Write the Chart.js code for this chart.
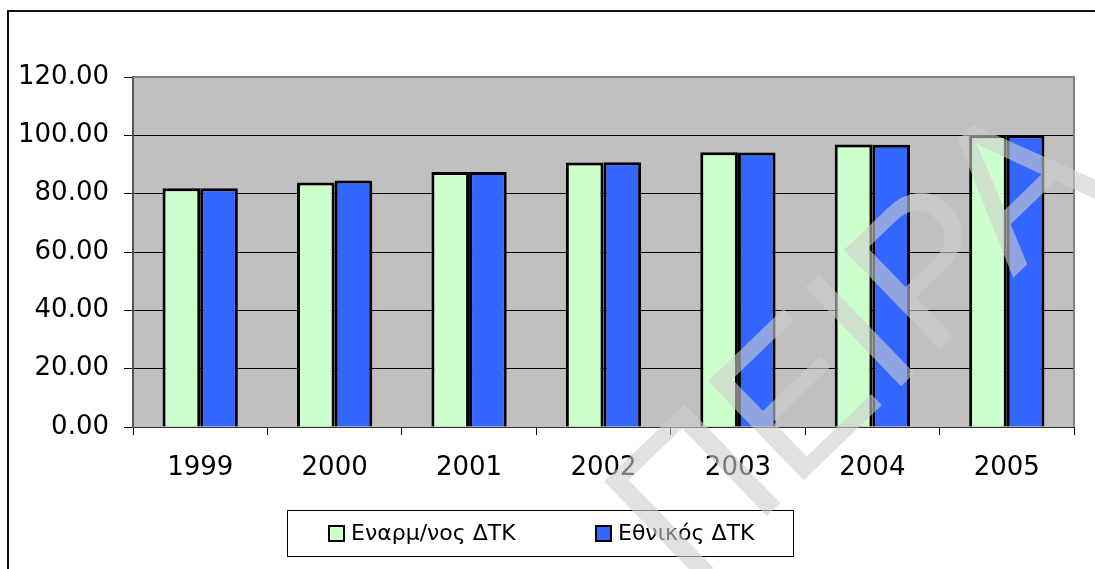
<!DOCTYPE html>
<html>
<head>
<meta charset="utf-8">
<script src="https://cdn.jsdelivr.net/npm/chart.js@4.4.0/dist/chart.umd.min.js"></script>
<style>
  html, body { margin: 0; padding: 0; background: #fff; }
  #wrap { position: relative; width: 1095px; height: 569px; }
</style>
</head>
<body>
<div id="wrap"><canvas id="cpiChart"></canvas></div>
<script>
// yearly index values, 2005 = 100
const years = ['1999', '2000', '2001', '2002', '2003', '2004', '2005'];
const harmonisedCpi = [81.9, 83.8, 87.4, 90.7, 94.2, 96.9, 100.0];
const nationalCpi = [81.9, 84.5, 87.4, 90.8, 94.1, 96.8, 100.0];
const seriesNames = ['Εναρμ/νος ΔΤΚ', 'Εθνικός ΔΤΚ'];
const yMin = 0, yMax = 120, yStep = 20;

const FONT = "'DejaVu Sans', sans-serif";

// grey plot background, outer frame
const frame = {
    id: 'frame',
    beforeDraw(chart) {
        const { ctx, chartArea: a } = chart;
        ctx.save();
        ctx.fillStyle = '#c0c0c0';
        ctx.fillRect(a.left, a.top, a.right - a.left, a.bottom - a.top);
        ctx.strokeStyle = '#111';
        ctx.lineWidth = 2;
        ctx.beginPath();
        ctx.moveTo(8, 600);
        ctx.lineTo(8, 11);
        ctx.lineTo(1100, 11);
        ctx.stroke();
        ctx.restore();
    },
    afterDatasetsDraw(chart) {
        const { ctx, chartArea: a } = chart;
        ctx.save();
        ctx.strokeStyle = '#808080';
        ctx.lineWidth = 2;
        ctx.beginPath();
        ctx.moveTo(a.left, a.top);
        ctx.lineTo(a.right, a.top);
        ctx.lineTo(a.right, a.bottom);
        ctx.stroke();
        ctx.restore();
    }
};

// boxed legend under the axis
const boxLegend = {
    id: 'boxLegend',
    afterDraw(chart) {
        const { ctx } = chart;
        const ds = chart.data.datasets;
        const itemX = [329, 596];
        ctx.save();
        ctx.fillStyle = '#fff';
        ctx.fillRect(287, 510, 506, 46);
        ctx.strokeStyle = '#000';
        ctx.lineWidth = 1;
        ctx.strokeRect(287.5, 510.5, 506, 46);
        ctx.font = '22px ' + FONT;
        ctx.textBaseline = 'middle';
        ds.forEach((d, i) => {
            const x = itemX[i];
            ctx.fillStyle = d.backgroundColor;
            ctx.fillRect(x, 526, 15, 15);
            ctx.lineWidth = 2;
            ctx.strokeStyle = '#000';
            ctx.strokeRect(x, 526, 15, 15);
            ctx.fillStyle = '#000';
            ctx.fillText(d.label, x + 22, 534);
        });
        ctx.restore();
    }
};

// faint diagonal stamp across the right side
const stamp = {
    id: 'stamp',
    afterDraw(chart) {
        const { ctx } = chart;
        ctx.save();
        ctx.translate(688, 592);
        ctx.rotate(-44 * Math.PI / 180);
        ctx.font = "200px 'Liberation Sans', sans-serif";
        ctx.textAlign = 'left';
        ctx.textBaseline = 'alphabetic';
        ctx.fillStyle = 'rgba(205,205,205,0.6)';
        ctx.fillText('ΠΕΙΡΑ', 0, 0);
        ctx.restore();
    }
};

new Chart(document.getElementById('cpiChart').getContext('2d'), {
    type: 'bar',
    data: {
        labels: years,
        datasets: [{
            label: seriesNames[0],
            data: harmonisedCpi,
            backgroundColor: '#ccffcc',
            borderColor: '#000',
            borderWidth: 3,
            borderSkipped: 'bottom'
        }, {
            label: seriesNames[1],
            data: nationalCpi,
            backgroundColor: '#3366ff',
            borderColor: '#000',
            borderWidth: 3,
            borderSkipped: 'bottom'
        }]
    },
    options: {
        responsive: true,
        maintainAspectRatio: false,
        animation: false,
        layout: { padding: { left: 0, top: 77, right: 21, bottom: 0 } },
        datasets: { bar: { categoryPercentage: 0.56, barPercentage: 1.0 } },
        plugins: { legend: { display: false }, tooltip: { enabled: false } },
        scales: {
            x: {
                afterFit(s) { s.height = 142; },
                grid: { offset: true, drawOnChartArea: false, color: '#000', tickLength: 8 },
                border: { color: '#333', width: 1 },
                ticks: { color: '#000', padding: 18, font: { family: FONT, size: 26 } }
            },
            y: {
                min: yMin,
                max: yMax,
                afterFit(s) { s.width = 133; },
                grid: { color: '#000', lineWidth: 1, tickLength: 9 },
                border: { color: '#555', width: 2 },
                ticks: {
                    stepSize: yStep,
                    color: '#000',
                    padding: 15,
                    font: { family: FONT, size: 26 },
                    callback: v => v.toFixed(2)
                }
            }
        }
    },
    plugins: [frame, boxLegend, stamp]
});
</script>
</body>
</html>
